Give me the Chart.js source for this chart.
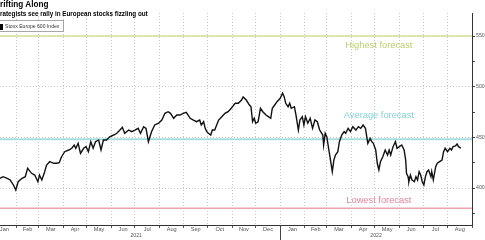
<!DOCTYPE html>
<html>
<head>
<meta charset="utf-8">
<script src="https://cdn.jsdelivr.net/npm/chart.js@4.4.0/dist/chart.umd.min.js"></script>
<style>
html, body { margin: 0; padding: 0; background: #fff; overflow: hidden; }
#wrap { position: relative; width: 485px; height: 240px; overflow: hidden; }
#chart { position: absolute; left: 0; top: 0; }
.title { position: absolute; left: -5.8px; top: 0px; font: bold 8.2px 'Liberation Sans', Arial, sans-serif; color: #000; white-space: nowrap; }
.subtitle { position: absolute; left: -6.3px; top: 10px; font: bold 6.3px 'Liberation Sans', Arial, sans-serif; color: #000; white-space: nowrap; }
.legend { position: absolute; left: -8px; top: 20px; width: 70px; height: 10px; border: 1px solid #a8a8a8; background: #fff; }
.legend i { position: absolute; left: 5px; top: 2.5px; width: 5px; height: 6px; background: #000; }
.legend span { position: absolute; left: 12px; top: 2px; font: 5.1px 'Liberation Sans', Arial, sans-serif; color: #333; white-space: nowrap; }
</style>
</head>
<body>
<div id="wrap">
  <canvas id="chart" width="485" height="240"></canvas>
  <div class="title">Drifting Along</div>
  <div class="subtitle">Strategists see rally in European stocks fizzling out</div>
  <div class="legend"><i></i><span>Stoxx Europe 600 Index</span></div>
</div>
<script>
// days since 2021-01-01 for each sampled close
const days = [
    10, 14, 19, 23, 27, 30, 33, 38, 42, 45, 50, 54, 58, 60, 63, 66, 69, 73, 78, 82,
    85, 88, 92, 97, 101, 104, 106, 109, 112, 116, 119, 122, 125, 128, 131, 135, 138, 141, 145, 149,
    154, 158, 162, 165,
    168, 173, 177, 181, 185, 188, 192, 195, 198, 202, 206, 211, 215, 219, 223, 226, 230, 234, 238, 242,
    246, 251, 255, 259, 263, 265, 268, 270, 272, 274, 277, 279, 282, 287, 291, 295, 299, 303, 308, 312,
    316, 318,
    322, 326, 328, 330, 332, 334, 337, 340, 343, 347, 350, 353, 355, 358, 361, 365, 368, 370, 372, 375,
    377, 379, 383, 385, 388, 390, 393, 395, 397, 400, 403, 406, 409, 412, 415, 419, 420, 422, 424, 426,
    429, 431, 433, 435, 438, 440, 443, 446, 448, 451, 454, 457, 461, 464,
    467, 470, 473, 476, 479, 481, 483, 486, 488, 490, 492, 495, 498, 501, 503, 505, 508, 511, 513, 516,
    519, 522, 524, 525, 527, 528, 530, 532, 535, 537, 539, 541, 543, 545, 547, 549, 551, 553, 556, 557,
    559, 562, 564, 567, 570, 572, 574, 577, 580, 582, 584, 587, 589, 591, 594
];

const closes = [
    409.6, 411.2, 409.6, 407.9, 403, 398, 406.2, 409.6, 411.2, 419.4, 414.5, 412.8, 406.2, 412.8, 407.9, 414.5, 422.7, 426, 424.4, 424.4,
    425, 430.9, 435.8, 437.5, 439.2, 442.4, 439.2, 444.1, 434.2, 439.2, 440.8, 435.8, 445.7, 439.2, 445.7, 447.4, 437.5, 447.4, 447.4, 450.6,
    452.3, 454, 457.2, 459.9,
    454, 457.2, 455.6, 457.2, 458.9, 454, 460.5, 458.9, 445.7, 455.6, 462.2, 463.9, 467.1, 473.7, 475.3, 473.7, 468.8, 472, 472, 473.7,
    474.7, 468.8, 467.1, 465.4, 467.1, 462.2, 465.4, 458.9, 455.6, 454, 452.3, 457.2, 457.2, 467.1, 470.4, 473.7, 475.3, 478.7, 483.6, 483.6,
    486.8, 489.8,
    486.8, 481.9, 480.2, 465.4, 468.8, 463.9, 465.4, 478.7, 475.3, 472, 470.4, 468.8, 478.7, 481.9, 485.2, 488.5, 493.5, 490.1, 483.6, 480.2,
    483.6, 478.7, 480.2, 472, 457.2, 467.1, 470.4, 462.2, 470.4, 463.9, 468.8, 458.9, 467.1, 465.4, 457.2, 452.3, 442.4, 454, 450.6, 440.8,
    426, 416.1, 427.6, 432.6, 435.8, 445.7, 452.3, 455.6, 454, 458.9, 455.6, 460.5, 457.2, 460.5,
    458.9, 462.2, 458.9, 444.1, 449, 445.7, 444.1, 437.5, 424.4, 417.8, 426, 430.9, 437.5, 432.6, 437.5, 432.6, 440.8, 445.7, 439.2, 440.8,
    442.4, 437.5, 427.6, 414.5, 411.2, 406.2, 412.8, 407.9, 406.2, 411.2, 407.9, 416.1, 412.8, 406.2, 403, 411.2, 416.1, 417.8, 411.2, 416.1,
    407.9, 421, 424.4, 426, 427.6, 435.8, 439.2, 435.8, 439.2, 437.5, 440.8, 441.5, 443.4, 440.8, 439.2
];

// strategist year-end targets
const forecastNames = ['Highest forecast', 'Average forecast', 'Lowest forecast'];
const forecastValues = [550, 448, 380];
const forecastLines = ['#d3e194', '#a9dede', '#e9a3b1'];
const forecastText = ['#b9d06c', '#88d2d2', '#e2869c'];

const monthNames = ['Jan', 'Feb', 'Mar', 'Apr', 'May', 'Jun', 'Jul', 'Aug', 'Sep', 'Oct', 'Nov', 'Dec'];
const years = [2021, 2022];

const X_MIN = 10, X_MAX = 608;     // visible window, days since 2021-01-01
const Y_MIN = 363.5, Y_MAX = 572.7;

const DAY0 = Date.UTC(2021, 0, 1);
const dayOf = (y, m) => (Date.UTC(y, m, 1) - DAY0) / 864e5;

// month boundaries and mid points
const months = [];
for (let y = 2021; y <= 2022; y++) {
    for (let m = 0; m < 12; m++) {
        const start = dayOf(y, m), end = dayOf(y, m + 1);
        if (start >= X_MAX) break;
        months.push({ name: monthNames[m], start, end, mid: (start + Math.min(end, X_MAX)) / 2 });
    }
}
const monthTicks = months.map(m => m.end).filter(d => d > X_MIN && d <= X_MAX);

const axisFont = "'Liberation Sans', Arial, sans-serif";

const annotations = {
    id: 'annotations',
    afterDraw(chart) {
        const { ctx, scales: { x, y }, chartArea } = chart;
        ctx.save();
        // month labels
        ctx.fillStyle = '#555';
        ctx.font = '5.6px ' + axisFont;
        ctx.textAlign = 'center';
        ctx.textBaseline = 'middle';
        months.forEach(m => {
            ctx.fillText(m.name, x.getPixelForValue(m.mid), chartArea.bottom + 4.5);
        });
        // year labels and separator
        ctx.font = '5.2px ' + axisFont;
        years.forEach(yr => {
            const s = dayOf(yr, 0), e = Math.min(dayOf(yr + 1, 0), X_MAX);
            ctx.fillText(String(yr), x.getPixelForValue((s + e) / 2), chartArea.bottom + 11);
            if (s > X_MIN) {
                const px = Math.round(x.getPixelForValue(s)) + 0.5;
                ctx.strokeStyle = '#444';
                ctx.lineWidth = 1;
                ctx.beginPath();
                ctx.moveTo(px, chartArea.bottom);
                ctx.lineTo(px, chartArea.bottom + 15);
                ctx.stroke();
            }
        });
        // forecast labels
        ctx.font = '9.3px ' + axisFont;
        const labelOffset = [9, -24, -8];
        forecastNames.forEach((name, i) => {
            ctx.fillStyle = forecastText[i];
            ctx.fillText(name, x.getPixelForValue(490), y.getPixelForValue(forecastValues[i]) + labelOffset[i]);
        });
        ctx.restore();
    }
};

const datasets = [{
    label: 'Stoxx Europe 600 Index',
    data: days.map((d, i) => ({ x: d, y: closes[i] })),
    borderColor: '#111',
    borderWidth: 1.4,
    pointRadius: 0,
    tension: 0
}];
forecastValues.forEach((v, i) => {
    datasets.push({
        label: forecastNames[i],
        data: [{ x: X_MIN, y: v }, { x: X_MAX, y: v }],
        borderColor: forecastLines[i],
        borderWidth: i === 1 ? 2 : 1.4,
        pointRadius: 0
    });
});

new Chart(document.getElementById('chart'), {
    type: 'line',
    data: { datasets },
    options: {
        responsive: false,
        animation: false,
        events: [],
        layout: { padding: { top: 13, left: 0, right: 0, bottom: 0 } },
        plugins: { legend: { display: false }, tooltip: { enabled: false } },
        scales: {
            x: {
                type: 'linear',
                min: X_MIN,
                max: X_MAX,
                afterBuildTicks: scale => { scale.ticks = monthTicks.map(v => ({ value: v })); },
                afterFit: scale => { scale.height = 15; },
                ticks: { display: false },
                grid: { color: '#c6c6c6', lineWidth: 1, drawTicks: true, tickLength: 3, tickColor: '#555' },
                border: { display: true, color: '#333', width: 1, dash: [1, 2] }
            },
            y: {
                position: 'right',
                min: Y_MIN,
                max: Y_MAX,
                afterBuildTicks: scale => {
                    scale.ticks = [375, 400, 425, 450, 475, 500, 525, 550].map(v => ({ value: v }));
                },
                afterFit: scale => { scale.width = 13; },
                ticks: {
                    padding: 1,
                    color: '#555',
                    font: { family: axisFont, size: 5.2 },
                    callback: v => (v % 50 === 0 ? v : '')
                },
                grid: {
                    color: c => (c.tick && c.tick.value % 50 === 0 ? '#c6c6c6' : 'rgba(0,0,0,0)'),
                    lineWidth: 1,
                    drawTicks: true,
                    tickLength: 3,
                    tickColor: '#444'
                },
                border: { display: true, color: '#333', width: 1, dash: [1, 2] }
            }
        }
    },
    plugins: [annotations]
});
</script>
</body>
</html>
